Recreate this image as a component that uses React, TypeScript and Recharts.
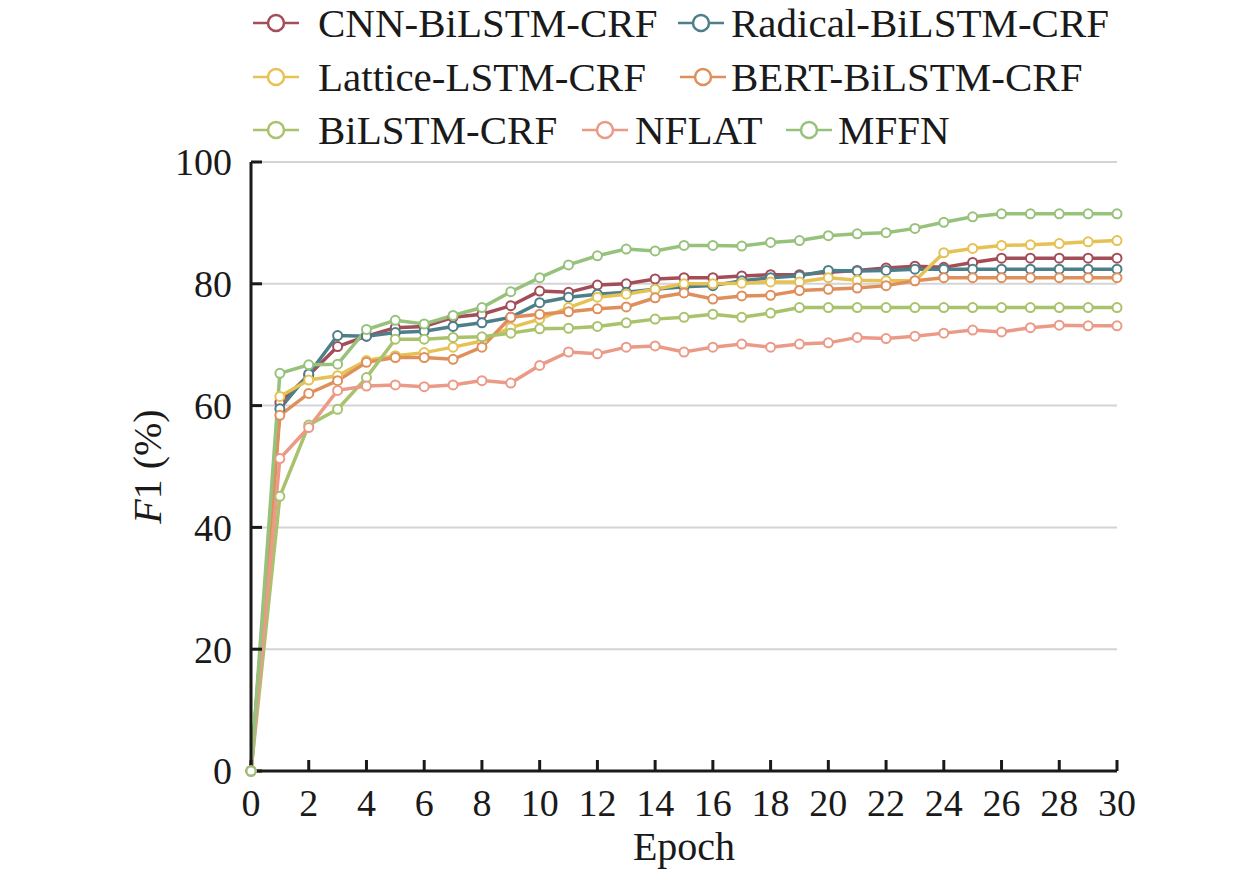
import { LineChart, Line, XAxis, YAxis, CartesianGrid } from "recharts"

const epochs = [
  0, 1, 2, 3, 4, 5, 6, 7, 8, 9, 10, 11, 12, 13, 14, 15, 16, 17, 18, 19, 20, 21, 22, 23, 24, 25, 26, 27, 28, 29, 30,
]

const cnnBiLstmCrf = [
  0, 60.5, 65.0, 69.7, 71.4, 72.8, 73.0, 74.5, 75.0, 76.4, 78.8, 78.6, 79.8, 80.0, 80.8, 81.0, 81.0, 81.3, 81.5, 81.5,
  81.9, 82.2, 82.6, 82.9, 82.7, 83.5, 84.2, 84.2, 84.2, 84.2, 84.2,
]
const radicalBiLstmCrf = [
  0, 59.5, 65.2, 71.5, 71.4, 72.0, 72.2, 73.0, 73.6, 74.5, 76.9, 77.8, 78.3, 78.6, 79.1, 79.5, 79.7, 80.5, 81.0, 81.3,
  82.2, 82.1, 82.2, 82.4, 82.4, 82.4, 82.4, 82.4, 82.4, 82.4, 82.4,
]
const latticeLstmCrf = [
  0, 61.5, 64.2, 64.9, 67.4, 68.2, 68.7, 69.6, 70.6, 72.8, 74.2, 76.1, 77.8, 78.3, 79.1, 80.0, 80.0, 80.1, 80.3, 80.3,
  81.0, 80.6, 80.5, 80.5, 85.1, 85.8, 86.3, 86.4, 86.6, 86.9, 87.1,
]
const bertBiLstmCrf = [
  0, 58.4, 62.0, 64.1, 67.1, 67.9, 67.9, 67.6, 69.6, 74.5, 75.0, 75.4, 75.9, 76.2, 77.7, 78.5, 77.5, 78.0, 78.1, 78.9,
  79.1, 79.3, 79.7, 80.5, 81.0, 81.0, 81.0, 81.0, 81.0, 81.0, 81.0,
]
const biLstmCrf = [
  0, 45.1, 56.8, 59.4, 64.6, 70.9, 70.9, 71.2, 71.3, 71.9, 72.6, 72.7, 73.0, 73.6, 74.2, 74.5, 75.0, 74.5, 75.2, 76.1,
  76.1, 76.1, 76.1, 76.1, 76.1, 76.1, 76.1, 76.1, 76.1, 76.1, 76.1,
]
const nflat = [
  0, 51.3, 56.4, 62.5, 63.2, 63.4, 63.1, 63.4, 64.1, 63.7, 66.6, 68.8, 68.5, 69.6, 69.8, 68.8, 69.6, 70.1, 69.6, 70.1,
  70.3, 71.2, 71.0, 71.4, 71.9, 72.4, 72.1, 72.8, 73.2, 73.1, 73.1,
]
const mffn = [
  0, 65.3, 66.7, 66.8, 72.5, 74.0, 73.4, 74.8, 76.1, 78.7, 81.0, 83.1, 84.6, 85.7, 85.4, 86.3, 86.3, 86.2, 86.8, 87.1,
  87.9, 88.2, 88.4, 89.1, 90.1, 91.0, 91.5, 91.5, 91.5, 91.5, 91.5,
]

const seriesNames = [
  "CNN-BiLSTM-CRF",
  "Radical-BiLSTM-CRF",
  "Lattice-LSTM-CRF",
  "BERT-BiLSTM-CRF",
  "BiLSTM-CRF",
  "NFLAT",
  "MFFN",
]
const seriesValues = [cnnBiLstmCrf, radicalBiLstmCrf, latticeLstmCrf, bertBiLstmCrf, biLstmCrf, nflat, mffn]
const seriesColors = ["#a34d59", "#4d7f8b", "#e6c255", "#df8f5c", "#a9c26c", "#ec9a88", "#97c27c"]

const xTicks = [0, 2, 4, 6, 8, 10, 12, 14, 16, 18, 20, 22, 24, 26, 28, 30]
const yTicks = [0, 20, 40, 60, 80, 100]

const data = epochs.map((epoch, i) => {
  const row: Record<string, number> = { epoch }
  seriesNames.forEach((name, s) => {
    row[name] = seriesValues[s][i]
  })
  return row
})

const FONT = "'Liberation Serif', 'Times New Roman', serif"

// legend placement: [left of icon, row center]
const legendSpots = [
  [253, 23, 318],
  [678, 23, 731],
  [253, 77, 318],
  [680, 77, 731],
  [253, 130, 318],
  [582, 130, 635],
  [786, 130, 838],
]

function LegendIcon({ color }: { color: string }) {
  return (
    <svg width={46} height={22} style={{ display: "block" }}>
      <line x1={0} y1={11} x2={46} y2={11} stroke={color} strokeWidth={2.5} />
      <circle cx={23} cy={11} r={8} fill="#fff" stroke={color} strokeWidth={2.5} />
    </svg>
  )
}

function ChartLegend() {
  return (
    <div style={{ position: "absolute", left: 0, top: 0, width: 1259, height: 150, pointerEvents: "none" }}>
      {seriesNames.map((name, i) => {
        const [iconX, cy, textX] = legendSpots[i]
        return (
          <div key={name}>
            <div style={{ position: "absolute", left: iconX, top: cy - 11 }}>
              <LegendIcon color={seriesColors[i]} />
            </div>
            <div
              style={{
                position: "absolute",
                left: textX,
                top: cy - 25,
                height: 50,
                lineHeight: "50px",
                fontFamily: FONT,
                fontSize: 41,
                color: "#1a1a1a",
                whiteSpace: "nowrap",
              }}
            >
              {name}
            </div>
          </div>
        )
      })}
    </div>
  )
}

export default function App() {
  return (
    <div style={{ position: "absolute", left: 0, top: 0, width: 1259, height: 874, background: "#fff" }}>
      <LineChart
        width={1259}
        height={874}
        data={data}
        margin={{ top: 162, right: 142, bottom: 63, left: 131 }}
      >
        <CartesianGrid vertical={false} stroke="#d4d4d4" strokeWidth={2} />
        <XAxis
          dataKey="epoch"
          type="number"
          domain={[0, 30]}
          ticks={xTicks}
          height={40}
          axisLine={{ stroke: "#1a1a1a", strokeWidth: 3 }}
          tickLine={{ stroke: "#1a1a1a", strokeWidth: 3 }}
          tickSize={-11}
          tickMargin={29}
          tick={{ fill: "#1a1a1a", fontSize: 38, fontFamily: FONT }}
          interval={0}
          label={{
            content: ({ viewBox }: any) => (
              <text
                x={viewBox.x + viewBox.width / 2}
                y={860}
                textAnchor="middle"
                fontFamily={FONT}
                fontSize={40}
                fill="#1a1a1a"
              >
                Epoch
              </text>
            ),
          }}
        />
        <YAxis
          type="number"
          domain={[0, 100]}
          ticks={yTicks}
          width={120}
          axisLine={{ stroke: "#1a1a1a", strokeWidth: 3 }}
          tickLine={{ stroke: "#1a1a1a", strokeWidth: 3 }}
          tickSize={-11}
          tickMargin={30}
          tick={{ fill: "#1a1a1a", fontSize: 38, fontFamily: FONT }}
          interval={0}
          label={{
            content: ({ viewBox }: any) => {
              const cx = viewBox.x + 30
              const cy = viewBox.y + viewBox.height / 2
              return (
                <text
                  x={cx}
                  y={cy}
                  transform={`rotate(-90 ${cx} ${cy})`}
                  textAnchor="middle"
                  fontFamily={FONT}
                  fontSize={40}
                  fill="#1a1a1a"
                >
                  <tspan fontStyle="italic">F</tspan>
                  <tspan>1 (%)</tspan>
                </text>
              )
            },
          }}
        />
        {seriesNames.map((name, i) => (
          <Line
            key={name}
            type="linear"
            dataKey={name}
            stroke={seriesColors[i]}
            strokeWidth={3.5}
            dot={{ r: 4.5, fill: "#fff", stroke: seriesColors[i], strokeWidth: 2 }}
            activeDot={false}
            isAnimationActive={false}
          />
        ))}
      </LineChart>
      <ChartLegend />
    </div>
  )
}
